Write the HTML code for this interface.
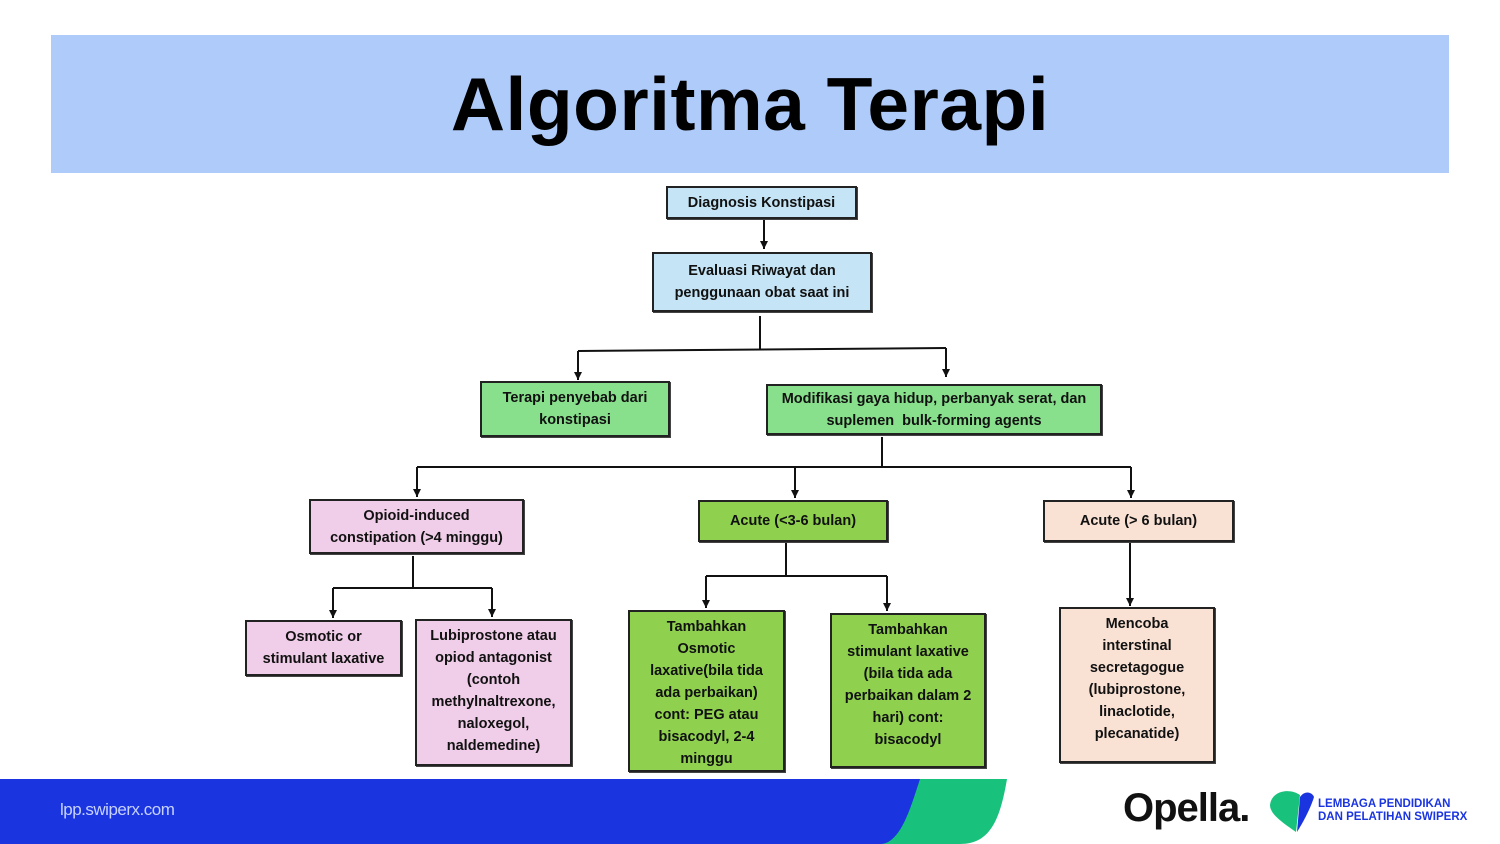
<!DOCTYPE html>
<html><head><meta charset="utf-8"><style>
body{margin:0;width:1500px;height:844px;position:relative;background:#fff;overflow:hidden;font-family:"Liberation Sans",sans-serif}
.hdr{position:absolute;left:51px;top:35px;width:1398px;height:138px;background:#aecbf9;text-align:center}
.hdr span{font-weight:bold;font-size:75px;line-height:138px;color:#000;letter-spacing:0.5px}
.b{position:absolute;box-sizing:border-box;border:2px solid #222;box-shadow:1px 1px 0 #444;display:flex;align-items:center;justify-content:center;text-align:center;font-weight:bold;font-size:14.5px;line-height:22px;color:#111}
.t{align-items:flex-start;padding-top:4px}
.bl{background:#c5e4f5}.g1{background:#88e08c}.g2{background:#8fd14f}.pk{background:#f0cde8}.pc{background:#f9e1d4}
</style></head><body>
<div class="hdr"><span>Algoritma Terapi</span></div>
<svg width="1500" height="844" style="position:absolute;left:0;top:0">
<defs>
<marker id="d" viewBox="0 0 10 10" refX="10" refY="5" markerWidth="8" markerHeight="8" orient="auto" markerUnits="userSpaceOnUse"><path d="M0,0 L10,5 L0,10 z" fill="#111"/></marker></defs>
<g stroke="#111" stroke-width="2" fill="none">
<path d="M764 220 V249" marker-end="url(#d)"/>
<path d="M760 316 V349"/>
<path d="M578 351 L946 348"/>
<path d="M578 351 V380" marker-end="url(#d)"/>
<path d="M946 348 V377" marker-end="url(#d)"/>
<path d="M882 437 V467"/>
<path d="M417 467 H1131"/>
<path d="M417 467 V497" marker-end="url(#d)"/>
<path d="M795 467 V498" marker-end="url(#d)"/>
<path d="M1131 467 V498" marker-end="url(#d)"/>
<path d="M413 556 V588"/>
<path d="M333 588 H492"/>
<path d="M333 588 V618" marker-end="url(#d)"/>
<path d="M492 588 V617" marker-end="url(#d)"/>
<path d="M786 542 V575"/>
<path d="M706 576 H887"/>
<path d="M706 576 V608" marker-end="url(#d)"/>
<path d="M887 576 V611" marker-end="url(#d)"/>
<path d="M1130 542 V606" marker-end="url(#d)"/>
</g>
<path d="M880 779 H1007 C1000 820 990 844 960 844 H880 Z" fill="#19c27c"/>
<path d="M0 779 H920 C910 810 900 844 880 844 H0 Z" fill="#1a35e0"/>
<path d="M1300 795 C1290 788 1272 790 1270 805 C1270 815 1285 824 1296 832 Z" fill="#19c27c"/>
<path d="M1297 832 L1300 797 C1305 790 1312 792 1314 797 C1310 810 1302 824 1297 832 Z" fill="#1a35e0"/>
</svg>
<div class="b bl" style="left:666px;top:186px;width:191px;height:33px">Diagnosis Konstipasi</div>
<div class="b bl" style="left:652px;top:252px;width:220px;height:60px">Evaluasi Riwayat dan<br>penggunaan obat saat ini</div>
<div class="b g1" style="left:480px;top:381px;width:190px;height:56px">Terapi penyebab dari<br>konstipasi</div>
<div class="b g1" style="left:766px;top:384px;width:336px;height:51px">Modifikasi gaya hidup, perbanyak serat, dan<br>suplemen&nbsp; bulk-forming agents</div>
<div class="b pk" style="left:309px;top:499px;width:215px;height:55px">Opioid-induced<br>constipation (&gt;4 minggu)</div>
<div class="b g2" style="left:698px;top:500px;width:190px;height:42px">Acute (&lt;3-6 bulan)</div>
<div class="b pc" style="left:1043px;top:500px;width:191px;height:42px">Acute (&gt; 6 bulan)</div>
<div class="b pk" style="left:245px;top:620px;width:157px;height:56px">Osmotic or<br>stimulant laxative</div>
<div class="b pk t" style="left:415px;top:619px;width:157px;height:147px">Lubiprostone atau<br>opiod antagonist<br>(contoh<br>methylnaltrexone,<br>naloxegol,<br>naldemedine)</div>
<div class="b g2 t" style="left:628px;top:610px;width:157px;height:162px">Tambahkan<br>Osmotic<br>laxative(bila tida<br>ada perbaikan)<br>cont: PEG atau<br>bisacodyl, 2-4<br>minggu</div>
<div class="b g2 t" style="left:830px;top:613px;width:156px;height:155px">Tambahkan<br>stimulant laxative<br>(bila tida ada<br>perbaikan dalam 2<br>hari) cont:<br>bisacodyl</div>
<div class="b pc t" style="left:1059px;top:607px;width:156px;height:156px">Mencoba<br>interstinal<br>secretagogue<br>(lubiprostone,<br>linaclotide,<br>plecanatide)</div>
<div style="position:absolute;left:60px;top:800px;color:#c8d2ff;font-size:17px;letter-spacing:-0.5px">lpp.swiperx.com</div>
<div style="position:absolute;left:1123px;top:786px;font-weight:bold;font-size:40px;color:#111;letter-spacing:-1px">Opella.</div>
<div style="position:absolute;left:1318px;top:798px;font-weight:bold;font-size:11.5px;line-height:13px;color:#1a35e0">LEMBAGA PENDIDIKAN<br>DAN PELATIHAN SWIPERX</div>
</body></html>
